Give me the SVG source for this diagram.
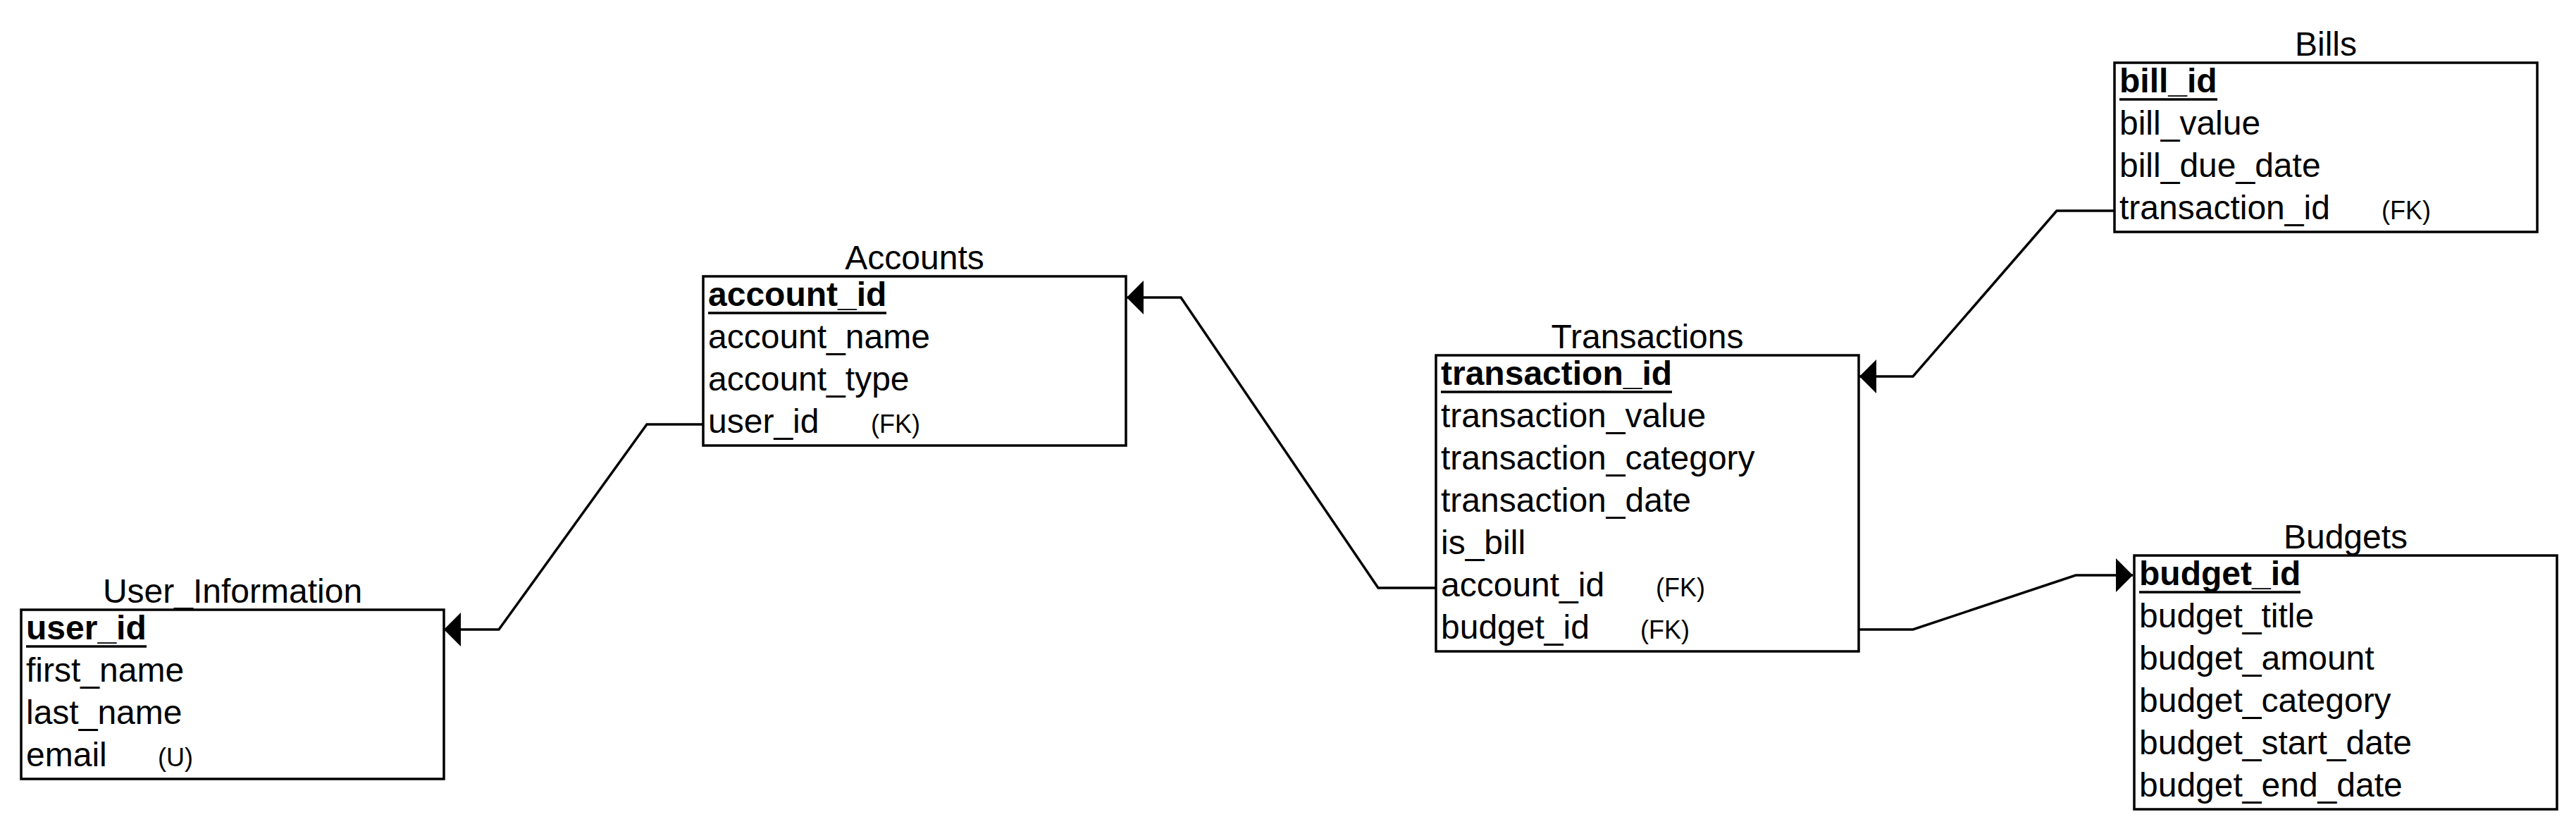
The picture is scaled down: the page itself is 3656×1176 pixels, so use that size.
<svg xmlns="http://www.w3.org/2000/svg" width="3656" height="1176" viewBox="0 0 3656 1176">
<defs>
<style>
text{font-family:"Liberation Sans",Arial,sans-serif;fill:#000}
.title{font-size:48px;text-anchor:middle}
.f{font-size:48px}
.k{font-size:48px;font-weight:bold}
.s{font-size:36px}
.box{fill:#fff;stroke:#000;stroke-width:3.5}
.ul{stroke:#000;stroke-width:3.5}
.edge{fill:none;stroke:#000;stroke-width:3.5;stroke-linejoin:miter}
</style>
<marker id="arr" markerUnits="userSpaceOnUse" viewBox="0 0 24 48" refX="24" refY="24" markerWidth="24" markerHeight="48" orient="auto">
<path d="M0,0 L24,24 L0,48 Z" fill="#000"/>
</marker>
</defs>
<rect width="3656" height="1176" fill="#fff"/>

<g id="connectors">
<path class="edge" d="M998,602 L918,602 L708,893 L630,893" marker-end="url(#arr)"/>
<path class="edge" d="M2038,834 L1956,834 L1676,422 L1599,422" marker-end="url(#arr)"/>
<path class="edge" d="M3001,299 L2919,299 L2715,534 L2639,534" marker-end="url(#arr)"/>
<path class="edge" d="M2637,893 L2715,893 L2946,816 L3027,816" marker-end="url(#arr)"/>
</g>

<g id="user_information">
<text class="title" x="330" y="855">User_Information</text>
<rect class="box" x="30" y="865" width="600" height="240"/>
<text class="k" x="37" y="907">user_id</text>
<line class="ul" x1="37" y1="917" x2="208" y2="917"/>
<text class="f" x="37" y="967">first_name</text>
<text class="f" x="37" y="1027">last_name</text>
<text class="f" x="37" y="1087">email</text>
<text class="s" x="224" y="1087">(U)</text>
</g>

<g id="accounts">
<text class="title" x="1298" y="382">Accounts</text>
<rect class="box" x="998" y="392" width="600" height="240"/>
<text class="k" x="1005" y="434">account_id</text>
<line class="ul" x1="1005" y1="444" x2="1258" y2="444"/>
<text class="f" x="1005" y="494">account_name</text>
<text class="f" x="1005" y="554">account_type</text>
<text class="f" x="1005" y="614">user_id</text>
<text class="s" x="1236" y="614">(FK)</text>
</g>

<g id="transactions">
<text class="title" x="2338" y="494">Transactions</text>
<rect class="box" x="2038" y="504" width="600" height="420"/>
<text class="k" x="2045" y="546">transaction_id</text>
<line class="ul" x1="2045" y1="556" x2="2373" y2="556"/>
<text class="f" x="2045" y="606">transaction_value</text>
<text class="f" x="2045" y="666">transaction_category</text>
<text class="f" x="2045" y="726">transaction_date</text>
<text class="f" x="2045" y="786">is_bill</text>
<text class="f" x="2045" y="846">account_id</text>
<text class="s" x="2350" y="846">(FK)</text>
<text class="f" x="2045" y="906">budget_id</text>
<text class="s" x="2328" y="906">(FK)</text>
</g>

<g id="bills">
<text class="title" x="3301" y="79">Bills</text>
<rect class="box" x="3001" y="89" width="600" height="240"/>
<text class="k" x="3008" y="131">bill_id</text>
<line class="ul" x1="3008" y1="141" x2="3147" y2="141"/>
<text class="f" x="3008" y="191">bill_value</text>
<text class="f" x="3008" y="251">bill_due_date</text>
<text class="f" x="3008" y="311">transaction_id</text>
<text class="s" x="3380" y="311">(FK)</text>
</g>

<g id="budgets">
<text class="title" x="3329" y="778">Budgets</text>
<rect class="box" x="3029" y="788" width="600" height="360"/>
<text class="k" x="3036" y="830">budget_id</text>
<line class="ul" x1="3036" y1="840" x2="3265" y2="840"/>
<text class="f" x="3036" y="890">budget_title</text>
<text class="f" x="3036" y="950">budget_amount</text>
<text class="f" x="3036" y="1010">budget_category</text>
<text class="f" x="3036" y="1070">budget_start_date</text>
<text class="f" x="3036" y="1130">budget_end_date</text>
</g>
</svg>
